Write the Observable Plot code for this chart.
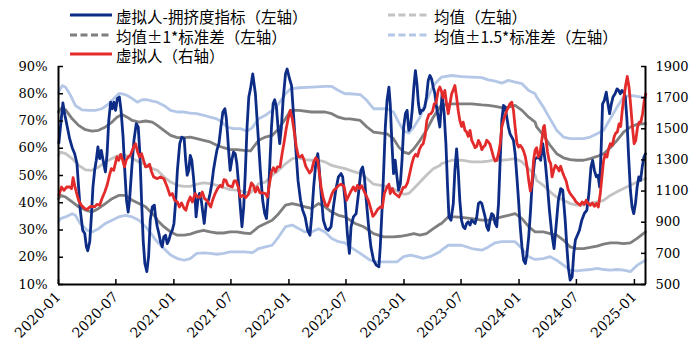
<!DOCTYPE html>
<html><head><meta charset="utf-8">
<script src="https://cdn.jsdelivr.net/npm/d3@7"></script>
<script src="https://cdn.jsdelivr.net/npm/@observablehq/plot@0.6"></script>
<style>
body{margin:0;background:#fff;width:698px;height:363px;overflow:hidden;}
#legend{position:relative;height:56px;font-family:"Noto Sans CJK SC";font-size:15.5px;color:#000;}
.txt{position:absolute;height:17px;line-height:17px;white-space:nowrap;}
.sw{position:absolute;}
</style></head><body>
<div id="legend"></div><div id="chart"></div>
<script>
// time values: months since 2020-01 (decimal); left values in %, right values in index points
const legendLabels = ["虚拟人-拥挤度指标（左轴）","均值（左轴）","均值±1*标准差（左轴）","均值±1.5*标准差（左轴）","虚拟人（右轴）"];
const xTickLabels = ["2020-01","2020-07","2021-01","2021-07","2022-01","2022-07","2023-01","2023-07","2024-01","2024-07","2025-01"];
const leftTicks = [10,20,30,40,50,60,70,80,90];
const rightTicks = [500,700,900,1100,1300,1500,1700,1900];

const crowd = [[0.04,62],[0.45,76.6],[0.66,72.0],[0.9,67.8],[1.15,63.5],[1.43,60.2],[1.70,58.0],[1.95,54.4],[2.12,45.8],[2.29,37.3],[2.54,29.9],[2.75,28.7],[2.92,23.8],[3.06,22.4],[3.27,25.7],[3.44,34.8],[3.61,45.8],[3.79,51.9],[3.96,55.6],[4.13,60.5],[4.31,56.2],[4.48,59.2],[4.66,55.6],[4.90,51.3],[5.07,58.0],[5.25,70.2],[5.45,76.9],[5.63,74.5],[5.80,76.9],[5.97,73.9],[6.15,78.2],[6.36,78.8],[6.53,73.9],[6.74,64.1],[6.91,51.9],[7.09,40.9],[7.26,36.6],[7.40,40.9],[7.61,51.9],[7.85,62.9],[8.09,69.0],[8.30,67.8],[8.47,58.0],[8.65,40.9],[8.82,26.3],[9.0,17.7],[9.2,14.7],[9.38,20.2],[9.55,33.6],[9.76,38.5],[9.97,39.1],
[10.10,34.8],[10.28,31.2],[10.45,28.7],[10.62,25.7],[10.80,23.8],[10.97,27.5],[11.15,28.1],[11.32,25.0],[11.49,26.3],[11.67,28.7],[11.84,29.9],[12.01,32.4],[12.19,40.9],[12.36,51.9],[12.60,61.7],[12.81,64.1],[13.06,63.5],[13.23,55.6],[13.40,50.1],[13.58,51.9],[13.75,57.4],[13.92,55.6],[14.10,49.5],[14.24,43.4],[14.37,34.8],[14.55,40.9],[14.72,43.4],[14.86,42.1],[15.03,37.3],[15.21,32.4],[15.42,39.7],[15.66,40.9],[15.83,43.4],[16.01,47.0],[16.18,51.9],[16.35,55.6],[16.53,59.2],[16.74,61.7],[16.94,67.8],[17.15,73.3],[17.36,74.5],[17.50,71.4],[17.64,65.3],[17.78,58.0],[17.92,51.9],[18.09,55.6],[18.26,58.6],[18.44,58.0],[18.61,54.3],[18.78,47.0],[18.96,38.5],[19.13,31.2],[19.31,38.5],[19.48,51.9],[19.65,67.8],[19.83,78.8],[20.0,81.8],
[20.24,87.3],[20.52,80.0],[20.80,65.3],[21.04,51.9],[21.28,40.9],[21.49,36.0],[21.67,34.2],[21.91,45.8],[22.19,67.8],[22.36,76.3],[22.53,77.8],[22.71,75.1],[22.88,67.8],[23.06,61.7],[23.23,67.8],[23.40,77.5],[23.65,87.3],[23.82,89.1],[24.06,85.5],[24.27,83.0],[24.44,73.9],[24.69,60.5],[24.93,48.2],[25.21,40.9],[25.45,37.3],[25.73,34.8],[26.01,29.9],[26.25,28.1],[26.42,34.8],[26.63,45.8],[26.84,54.3],[27.05,58.0],[27.19,53.1],[27.40,43.4],[27.64,33.6],[27.92,30.5],[28.16,29.9],[28.44,31.2],[28.68,38.5],[28.92,44.6],[29.20,49.5],[29.48,50.7],
[29.65,49.5],[29.90,40.9],[30.14,28.7],[30.35,21.4],[30.52,31.2],[30.76,34.8],[31.04,36.0],[31.28,43.4],[31.53,51.9],[31.70,53.1],[31.88,49.5],[32.08,40.9],[32.33,31.2],[32.57,23.8],[32.85,18.9],[33.13,17.1],[33.40,16.5],[33.54,23.8],[33.72,37.3],[33.89,51.9],[34.06,67.8],[34.24,77.5],[34.44,82.4],[34.58,76.3],[34.76,61.7],[34.93,50.7],[35.10,55.6],[35.28,49.5],[35.45,44.6],[35.63,47.0],[35.80,55.6],[35.97,67.8],[36.15,72.7],[36.32,73.9],[36.49,66.6],[36.67,67.8],[36.84,73.9],[37.01,82.4],[37.19,88.5],[37.36,83.7],[37.53,76.3],[37.71,72.7],[37.88,73.9],[38.06,73.9],[38.23,75.1],[38.40,78.8],[38.58,84.9],[38.75,86.7],[38.92,85.5],[39.10,82.4],[39.27,80.0],[39.44,75.1],
[39.62,71.4],[39.79,67.8],[40.03,80.0],[40.24,72.7],[40.42,61.7],[40.59,45.8],[40.73,34.8],[40.94,33.6],[41.18,39.7],[41.35,51.9],[41.53,59.8],[41.70,51.9],[41.87,40.9],[42.05,33.6],[42.22,31.2],[42.40,30.5],[42.57,32.4],[42.74,33.0],[42.92,31.8],[43.09,33.6],[43.26,33.0],[43.44,32.4],[43.61,34.8],[43.78,39.7],[43.96,40.3],[44.13,39.7],[44.30,37.3],[44.48,34.8],[44.65,31.2],[44.83,29.9],[45.0,33.6],[45.17,36.0],[45.35,35.4],[45.52,32.4],[45.69,31.2],[45.87,39.7],[46.04,55.6],[46.21,70.2],[46.39,75.7],[46.56,75.1],[46.74,71.4],[46.91,67.8],[47.08,65.3],[47.26,64.1],[47.43,62.9],[47.60,58.0],[47.78,49.5],[47.95,40.9],[48.12,31.2],[48.30,23.8],[48.47,18.9],[48.65,17.7],[48.82,21.4],[48.99,27.5],[49.17,36.0],[49.34,45.8],
[49.65,56.0],[50.04,56.8],[50.28,55.6],[50.49,61.7],[50.73,55.6],[50.98,45.8],[51.18,37.3],[51.43,28.7],[51.67,23.2],[51.88,31.2],[52.12,40.9],[52.36,45.2],[52.57,44.6],[52.82,33.6],[52.99,23.8],[53.16,15.9],[53.34,11.6],[53.55,12.8],[53.72,21.4],[53.89,26.3],[54.10,28.1],[54.31,29.9],[54.55,33.6],[54.80,36.0],[55.07,37.3],[55.28,43.4],[55.49,53.1],[55.66,55.6],[55.84,51.9],[56.04,49.5],[56.22,50.1],[56.39,45.8],[56.57,61.7],[56.70,76.3],[56.88,77.5],[57.09,80.6],[57.26,76.3],[57.43,72.7],[57.61,76.3],[57.78,78.8],[57.99,80.0],[58.20,81.8],[58.37,81.2],[58.55,80.0],[58.72,81.2],[58.89,80.6],[59.07,78.8],[59.24,70.2],[59.41,56.8],[59.59,44.6],[59.76,38.5],[59.93,36.0],[60.11,39.7],[60.28,45.8],[60.45,49.5],[60.63,48.2],[60.80,53.1],[60.98,56.8],[61.15,58.0]];

const virtual = [[0.04,1073],[0.31,1126],[0.56,1105],[0.84,1126],[1.15,1126],[1.36,1116],[1.53,1186],[1.70,1137],[1.88,1094],[2.12,1041],[2.40,1009],[2.75,988],[2.99,981],[3.27,998],[3.51,1002],[3.79,998],[4.03,1015],[4.31,1009],[4.55,1052],[4.83,1094],[5.07,1137],[5.32,1201],[5.52,1244],[5.77,1233],[5.94,1276],[6.11,1319],[6.29,1297],[6.50,1336],[6.70,1297],[6.88,1255],[7.05,1297],[7.26,1319],[7.47,1329],[7.68,1362],[7.89,1394],[8.02,1404],[8.23,1351],[8.44,1319],[8.65,1340],[8.86,1297],[9.07,1255],[9.27,1259],[9.48,1272],[9.69,1223],[9.90,1191],
[10.28,1180],[10.63,1191],[10.97,1180],[11.32,1126],[11.60,1073],[11.84,1084],[12.08,1041],[12.36,1030],[12.57,998],[12.78,1024],[13.06,988],[13.26,977],[13.47,1024],[13.75,1062],[13.99,1030],[14.27,1084],[14.51,1062],[14.79,1062],[15.0,1094],[15.24,1052],[15.49,1041],[15.73,1015],[15.90,998],[16.11,1045],[16.35,1084],[16.60,1116],[16.87,1137],[17.08,1126],[17.26,1173],[17.47,1169],[17.67,1137],[17.92,1131],[18.13,1126],[18.33,1165],[18.54,1165],[18.75,1126],[18.96,1062],[19.24,1073],[19.51,1058],[19.79,1079],
[20.10,1152],[20.31,1137],[20.52,1094],[20.73,1126],[21.01,1088],[21.28,1088],[21.56,1084],[21.77,1062],[21.98,1148],[22.19,1223],[22.40,1250],[22.60,1223],[22.81,1255],[23.09,1255],[23.30,1340],[23.51,1415],[23.72,1500],[23.92,1565],[24.13,1618],[24.34,1565],[24.55,1479],[24.76,1383],[24.97,1323],[25.17,1319],[25.38,1330],[25.59,1302],[25.80,1259],[26.01,1238],[26.22,1216],[26.42,1233],[26.63,1287],[26.84,1314],[27.05,1297],[27.22,1212],[27.40,1126],[27.64,1052],[27.88,1009],[28.09,1002],[28.30,1037],[28.51,1079],[28.72,1105],[28.92,1116],[29.20,1135],[29.48,1144],
[29.79,1131],[30.07,1041],[30.31,1073],[30.52,1101],[30.76,1126],[30.97,1101],[31.18,1137],[31.39,1116],[31.60,1135],[31.81,1105],[32.05,1073],[32.29,1041],[32.50,998],[32.78,938],[33.02,955],[33.26,981],[33.54,998],[33.75,994],[33.96,1084],[34.24,1126],[34.44,1144],[34.58,1084],[34.79,1116],[35.0,1088],[35.28,1073],[35.49,1062],[35.69,1088],[35.90,1122],[36.15,1126],[36.39,1158],[36.60,1216],[36.81,1276],[37.01,1319],[37.22,1336],[37.43,1323],[37.64,1366],[37.85,1391],[38.06,1404],[38.26,1458],[38.44,1554],[38.65,1592],[38.85,1597],[39.03,1614],[39.20,1661],[39.38,1665],
[39.44,1682],[39.62,1746],[39.79,1768],[39.96,1742],[40.14,1699],[40.31,1746],[40.49,1661],[40.66,1597],[40.83,1661],[41.01,1725],[41.18,1750],[41.35,1778],[41.53,1703],[41.70,1618],[41.87,1554],[42.05,1515],[42.22,1543],[42.40,1490],[42.57,1479],[42.74,1451],[42.92,1490],[43.09,1426],[43.26,1404],[43.44,1379],[43.61,1387],[43.78,1426],[43.96,1404],[44.13,1366],[44.30,1383],[44.48,1394],[44.65,1426],[44.83,1415],[45.0,1400],[45.17,1362],[45.35,1319],[45.52,1293],[45.69,1297],[45.87,1340],[46.04,1404],[46.21,1511],[46.39,1554],[46.56,1586],[46.74,1618],[46.91,1639],[47.08,1661],[47.26,1671],[47.43,1618],[47.60,1511],[47.78,1409],[47.95,1383],[48.12,1394],[48.30,1379],[48.47,1357],[48.65,1319],[48.82,1255],[48.99,1169],[49.17,1101],[49.34,1148],
[49.52,1297],[49.69,1362],[49.86,1379],[50.04,1319],[50.21,1340],[50.39,1426],[50.56,1511],[50.66,1522],[50.80,1443],[50.98,1351],[51.15,1297],[51.32,1276],[51.46,1191],[51.63,1233],[51.81,1265],[52.02,1250],[52.19,1229],[52.36,1259],[52.54,1223],[52.71,1195],[52.92,1165],[53.13,1109],[53.34,1084],[53.55,1067],[53.75,1052],[53.96,1030],[54.17,1020],[54.38,1009],[54.59,1030],[54.80,1015],[55.0,1041],[55.21,1020],[55.42,1009],[55.63,1024],[55.84,1002],[56.04,1020],[56.25,998],[56.46,1084],[56.63,1191],[56.81,1297],[56.98,1336],[57.16,1319],[57.33,1372],[57.50,1404],[57.71,1394],[57.89,1447],[58.06,1473],[58.23,1479],[58.41,1532],[58.58,1515],[58.75,1618],[58.93,1704],[59.10,1778],[59.27,1836],[59.45,1768],[59.62,1650],[59.80,1511],[59.97,1404],[60.14,1426],[60.32,1511],[60.49,1543],[60.66,1543],[60.84,1597],[61.01,1682],[61.18,1725]];

const meanLine = [[0,57.4],[0.21,58.6],[0.73,58.0],[1.43,56.2],[2.12,53.7],[2.82,52.1],[3.51,51.9],[4.20,53.1],[4.90,55.0],[5.59,56.2],[6.29,57.4],[6.98,57.4],[7.68,56.2],[8.37,55.0],[9.07,54.1],[9.76,52.5],[10.28,51.9],[10.97,49.5],[11.67,47.6],[12.36,46.4],[13.06,46.0],[13.75,46.0],[14.44,46.8],[15.14,47.3],[15.83,47.0],[16.53,46.4],[17.22,45.6],[17.92,44.8],[18.61,44.6],[19.31,44.0],[20.0,43.6],[20.17,44.3],[20.87,47.0],[21.56,47.6],[22.26,50.1],[22.95,51.9],[23.65,54.3],[24.34,56.2],[25.03,56.5],[25.73,55.8],[26.42,55.6],[27.12,55.6],[27.81,55.0],[28.51,53.7],[29.20,53.1],[29.90,52.5],[30.42,51.9],[31.46,50.7],[32.15,48.9],[32.85,46.8],[34.24,46.0],[34.93,45.2],[35.45,44.0],[35.97,43.1],[36.49,43.4],[37.01,45.2],[37.71,47.6],[38.40,50.1],[39.10,52.5],[39.79,53.7],[39.96,54.3],[41.01,55.6],[42.05,55.6],[43.09,55.0],[44.13,55.0],[44.83,55.3],[45.52,55.8],[46.21,55.6],[46.91,55.8],[47.60,56.2],[48.30,55.0],[48.99,52.5],[49.69,50.1],[49.86,48.2],[50.56,46.4],[51.25,44.0],[51.95,42.1],[52.64,40.9],[53.34,39.7],[54.03,39.1],[54.73,39.1],[55.42,39.7],[56.11,40.3],[56.81,40.9],[57.50,42.7],[58.20,44.0],[58.89,45.2],[59.59,46.4],[60.28,47.6],[61.15,48.9]];

const upper1 = [[0,73.3],[0.21,74.5],[0.73,74.1],[1.43,70.8],[2.12,68.4],[2.82,66.8],[3.51,66.3],[4.20,66.6],[4.90,67.8],[5.59,69.6],[6.11,71.4],[6.63,72.4],[7.15,71.4],[7.68,70.2],[8.37,69.6],[9.07,70.0],[9.76,69.6],[10.28,68.4],[10.97,66.6],[11.67,64.7],[12.36,63.9],[13.06,63.9],[13.75,64.1],[14.44,63.5],[15.14,62.9],[15.83,62.3],[16.53,61.1],[17.22,60.2],[17.92,59.5],[18.61,59.5],[19.31,59.2],[20.0,59.0],[20.17,59.8],[20.87,62.9],[21.56,64.1],[22.26,64.7],[22.95,67.2],[23.65,70.8],[24.17,73.9],[25.03,73.9],[26.42,73.3],[27.81,73.3],[28.51,72.7],[29.20,71.4],[29.90,70.8],[30.42,70.8],[31.46,70.2],[32.15,67.8],[32.85,65.9],[34.24,65.3],[34.93,63.5],[35.45,60.5],[35.97,58.6],[36.49,58.0],[37.01,59.8],[37.71,62.9],[38.40,66.6],[39.10,71.4],[39.79,75.1],[39.96,75.7],[41.01,76.3],[42.05,76.3],[43.09,76.3],[44.13,75.9],[44.83,75.7],[45.52,75.4],[46.21,74.9],[46.91,75.1],[47.60,75.7],[48.30,73.9],[48.99,71.4],[49.69,69.6],[49.86,67.8],[50.56,64.7],[51.25,61.1],[51.95,58.0],[52.64,56.5],[53.34,55.8],[54.03,55.6],[54.73,55.6],[55.42,56.2],[56.11,57.0],[56.81,58.0],[57.50,60.2],[58.20,62.9],[58.89,65.9],[59.59,67.8],[60.28,68.8],[61.15,69.0]];

const lower1 = [[0,41.5],[0.21,42.7],[0.73,42.1],[1.43,40.3],[2.12,38.5],[2.82,37.3],[3.51,36.6],[4.20,37.9],[4.90,39.7],[5.59,41.5],[6.29,42.7],[6.98,42.7],[7.68,40.9],[8.37,39.7],[9.07,38.5],[9.76,36.0],[10.11,34.8],[10.28,33.6],[10.97,31.2],[11.67,29.3],[12.36,28.1],[13.06,28.1],[13.75,28.5],[14.44,29.3],[15.14,29.9],[15.83,29.3],[16.53,28.9],[17.22,28.9],[17.92,29.3],[18.61,29.3],[19.31,28.9],[20.0,28.7],[20.87,31.2],[21.56,32.4],[22.26,33.6],[22.95,36.0],[23.65,39.1],[24.34,39.7],[25.03,39.1],[25.73,38.5],[26.42,37.9],[27.12,39.7],[27.81,38.5],[28.51,36.6],[29.20,35.4],[29.90,34.8],[30.42,33.6],[30.94,32.4],[31.81,31.2],[32.85,28.7],[33.89,27.5],[34.93,27.5],[35.63,27.7],[36.32,28.1],[37.01,28.7],[37.71,28.1],[38.40,28.7],[39.10,30.5],[39.79,32.1],[39.96,32.4],[40.66,34.8],[41.35,34.8],[42.05,34.6],[43.09,34.2],[44.13,33.6],[44.83,33.6],[45.52,34.2],[46.21,34.8],[46.91,35.4],[47.60,36.0],[48.30,34.2],[48.99,31.2],[49.69,29.3],[50.56,29.3],[51.25,28.7],[51.95,28.1],[52.64,26.3],[53.34,23.8],[54.03,23.2],[54.73,23.2],[55.42,23.6],[56.11,24.1],[56.81,24.8],[57.50,25.3],[58.20,25.3],[58.89,25.0],[59.59,25.3],[60.28,26.9],[61.15,29.3]];

const upper15 = [[0,80.6],[0.38,83.0],[0.73,82.4],[1.25,79.4],[1.77,75.7],[2.47,74.1],[3.16,73.9],[3.86,73.9],[4.55,74.5],[5.25,76.3],[5.77,78.2],[6.29,80.0],[6.63,80.0],[7.15,79.4],[7.68,78.2],[8.20,76.9],[8.72,77.8],[9.24,77.8],[9.76,77.3],[10.28,76.9],[10.97,75.7],[11.67,73.9],[12.36,73.3],[13.06,73.3],[13.75,72.9],[14.44,72.7],[15.14,72.1],[15.83,71.4],[16.53,70.8],[17.05,69.6],[17.57,67.8],[18.26,67.2],[18.96,67.2],[19.65,66.3],[20.17,67.5],[20.87,70.8],[21.56,72.1],[22.26,73.9],[22.95,76.3],[23.65,80.0],[24.17,81.8],[25.03,82.2],[26.42,82.4],[27.81,82.7],[28.51,82.7],[29.20,81.2],[29.90,80.0],[30.42,80.0],[31.46,79.7],[32.15,77.5],[32.85,74.5],[33.89,74.5],[34.24,74.5],[34.93,73.3],[35.45,69.6],[35.97,66.3],[36.49,65.6],[37.01,67.8],[37.71,71.4],[38.40,77.5],[39.10,83.0],[39.79,85.5],[39.96,86.1],[41.01,86.7],[42.05,86.3],[43.09,86.1],[44.13,85.9],[44.83,85.1],[45.52,84.6],[46.21,83.9],[46.91,84.9],[47.60,84.3],[48.30,83.7],[48.99,81.2],[49.69,80.0],[49.86,78.8],[50.56,75.1],[51.25,70.8],[51.95,66.6],[52.64,64.1],[53.34,63.5],[54.03,63.5],[54.73,63.5],[55.42,64.1],[56.11,65.3],[56.81,66.6],[57.50,70.8],[58.20,75.1],[58.89,78.8],[59.59,79.4],[60.28,79.0],[61.15,78.5]];

const lower15 = [[0,33.0],[0.21,34.2],[0.73,34.8],[1.43,36.0],[1.77,35.4],[2.29,32.4],[2.99,29.9],[3.51,29.3],[4.20,30.5],[4.90,32.4],[5.59,33.6],[6.29,34.8],[6.98,35.4],[7.68,34.8],[8.37,33.6],[9.07,31.2],[9.76,28.1],[10.11,26.3],[10.28,25.7],[10.97,23.2],[11.67,20.8],[12.36,19.5],[13.06,18.9],[13.75,19.5],[14.44,21.4],[15.14,21.6],[15.83,21.4],[16.53,21.1],[17.22,21.4],[17.92,22.0],[18.61,22.0],[19.31,22.0],[20.0,21.8],[20.17,21.6],[20.87,23.2],[21.56,23.8],[22.26,24.4],[22.95,27.5],[23.65,31.2],[24.34,31.8],[25.03,30.5],[25.73,29.3],[26.42,29.3],[27.12,30.5],[27.81,29.3],[28.51,26.9],[29.20,25.7],[29.90,25.3],[30.42,23.8],[31.46,21.4],[32.50,18.9],[33.19,18.3],[34.24,18.3],[35.28,18.3],[35.97,20.2],[36.67,20.8],[37.36,20.2],[38.06,19.6],[38.75,20.2],[39.44,21.4],[39.79,22.0],[39.96,22.6],[40.66,24.4],[42.05,24.4],[43.09,23.2],[44.13,22.6],[44.83,23.8],[45.52,25.3],[46.21,25.7],[46.91,25.7],[47.60,25.7],[48.30,23.2],[48.99,20.2],[49.69,19.2],[50.56,19.5],[51.25,20.2],[51.95,18.9],[52.64,17.1],[53.34,15.3],[54.03,15.0],[54.73,15.3],[55.42,15.5],[56.11,15.9],[56.81,15.5],[57.50,15.3],[58.20,15.5],[58.89,15.3],[59.59,14.7],[60.28,17.1],[61.15,18.9]];

const xEndMonths = 61.15;

const C = {blue:"#0c2c86", red:"#e32b2b", gray:"#7f7f7f", lgray:"#c3c3c3", lblue:"#b4c7e7"};

function toDate(m){
  const f = Math.floor(m);
  const a = d3.timeMonth.offset(new Date(2020,0,1), f);
  const b = d3.timeMonth.offset(a, 1);
  return new Date(+a + (m - f) * (b - a));
}
const toLeft = r => 10 + (r - 500) * 80 / 1400;
const fromLeft = v => 500 + (v - 10) * 1400 / 80;

// legend
const legendSpec = [
  {i:0, color:C.blue, dash:null, x:70, y:15},
  {i:1, color:C.lgray, dash:"7,3.5", x:388, y:15},
  {i:2, color:C.gray, dash:"7,3.5", x:70, y:34.5},
  {i:3, color:C.lblue, dash:"7,3.5", x:388, y:34.5},
  {i:4, color:C.red, dash:null, x:70, y:54}
];
const leg = document.getElementById("legend");
for (const s of legendSpec) {
  const svg = d3.create("svg").attr("class","sw").attr("width",42).attr("height",6)
    .style("left", s.x + "px").style("top", (s.y - 3) + "px");
  svg.append("line").attr("x1",0).attr("x2",42).attr("y1",3).attr("y2",3)
    .attr("stroke", s.color).attr("stroke-width",3).attr("stroke-dasharray", s.dash);
  leg.appendChild(svg.node());
  const t = document.createElement("div");
  t.className = "txt"; t.textContent = legendLabels[s.i];
  t.style.left = (s.x + 46) + "px"; t.style.top = (s.y - 7) + "px";
  leg.appendChild(t);
}

const xTicks = xTickLabels.map(s => { const [y,m] = s.split("-").map(Number); return new Date(y, m-1, 1); });
const lineOpts = (stroke) => ({x: d => toDate(d[0]), y: d => d[1], stroke, strokeWidth: 2.8, strokeLinejoin:"round"});
const serif = "DejaVu Serif";

const chart = Plot.plot({
  width: 698, height: 307,
  marginTop: 10, marginBottom: 79, marginLeft: 58, marginRight: 53,
  style: {fontFamily: serif, fontSize: "13px", color: "#000", background: "#fff", overflow: "visible"},
  x: {type: "time", domain: [toDate(0), toDate(xEndMonths)]},
  y: {domain: [10, 90]},
  marks: [
    Plot.line(lower15, lineOpts(C.lblue)),
    Plot.line(upper15, lineOpts(C.lblue)),
    Plot.line(lower1, lineOpts(C.gray)),
    Plot.line(upper1, lineOpts(C.gray)),
    Plot.line(meanLine, lineOpts(C.lgray)),
    Plot.line(crowd, lineOpts(C.blue)),
    Plot.line(virtual, {x: d => toDate(d[0]), y: d => toLeft(d[1]), stroke: C.red, strokeWidth: 2.8, strokeLinejoin:"round"}),
    Plot.ruleY([10], {stroke:"#000", strokeWidth: 2}),
    Plot.ruleX([toDate(0), toDate(xEndMonths)], {stroke:"#000", strokeWidth: 2}),
    Plot.axisY(leftTicks, {anchor:"left", tickSize:-5, tickPadding:16, strokeWidth:1.5, fontFamily:serif, fontSize:13, tickFormat: d => d + "%"}),
    Plot.axisY(rightTicks.map(toLeft), {anchor:"right", tickSize:-5, tickPadding:15, strokeWidth:1.5, fontFamily:serif, fontSize:13, tickFormat: d => String(Math.round(fromLeft(d)))}),
    Plot.axisX(xTicks, {anchor:"bottom", tickSize:-5, tickPadding:15, strokeWidth:1.5, fontFamily:serif, fontSize:14, tickRotate:-45, tickFormat: d3.timeFormat("%Y-%m")})
  ]
});
document.getElementById("chart").appendChild(chart);
</script></body></html>
